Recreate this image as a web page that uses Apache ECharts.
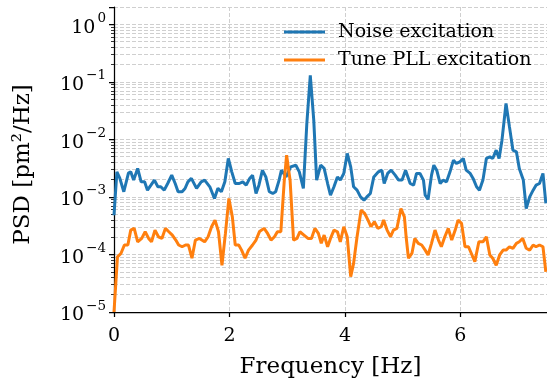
<!DOCTYPE html>
<html>
<head>
<meta charset="utf-8">
<script src="https://cdn.jsdelivr.net/npm/echarts@6/dist/echarts.min.js"></script>
<style>html,body{margin:0;padding:0;background:#fff}#c{width:547px;height:380px}</style>
</head>
<body>
<div id="c"></div>
<script>
// ---- data ----
const noiseFreq = [0.00,0.05,0.10,0.17,0.25,0.29,0.34,0.41,0.47,0.53,0.58,0.64,0.70,0.76,0.81,0.87,0.93,1.00,1.06,1.11,1.18,1.23,1.28,1.34,1.43,1.51,1.57,1.66,1.74,1.80,1.86,1.92,1.98,2.04,2.10,2.17,2.23,2.29,2.35,2.40,2.46,2.51,2.57,2.63,2.69,2.75,2.80,2.86,2.90,2.98,3.06,3.15,3.21,3.28,3.34,3.40,3.46,3.51,3.58,3.64,3.70,3.75,3.81,3.87,3.92,3.98,4.04,4.10,4.15,4.21,4.27,4.33,4.38,4.44,4.50,4.58,4.64,4.68,4.74,4.80,4.87,4.93,4.99,5.05,5.07,5.13,5.19,5.24,5.30,5.36,5.39,5.44,5.50,5.54,5.59,5.65,5.70,5.76,5.82,5.88,5.93,5.99,6.05,6.10,6.17,6.22,6.28,6.33,6.39,6.45,6.51,6.56,6.62,6.67,6.72,6.79,6.85,6.91,6.97,7.02,7.09,7.14,7.20,7.26,7.31,7.37,7.43,7.48];
const noisePsd = [4.8e-4,2.73e-3,2.12e-3,1.23e-3,2.59e-3,2.73e-3,1.96e-3,3.13e-3,1.83e-3,1.83e-3,1.31e-3,1.60e-3,1.96e-3,1.50e-3,1.50e-3,1.31e-3,1.71e-3,2.39e-3,1.71e-3,1.23e-3,1.23e-3,1.4e-3,1.83e-3,2.10e-3,1.41e-3,1.83e-3,1.96e-3,1.50e-3,9.4e-4,1.41e-3,1.23e-3,1.83e-3,4.66e-3,2.73e-3,1.71e-3,1.71e-3,1.83e-3,1.60e-3,2.10e-3,2.39e-3,1.15e-3,1.6e-3,2.9e-3,2.23e-3,1.23e-3,1.15e-3,1.23e-3,1.96e-3,2.92e-3,2.23e-3,3.33e-3,3.56e-3,2.73e-3,1.41e-3,1.89e-2,0.130,2.16e-2,1.96e-3,3.56e-3,3.13e-3,1.71e-3,1.07e-3,1.50e-3,2.23e-3,1.96e-3,2.56e-3,5.69e-3,3.33e-3,1.50e-3,1.31e-3,1.0e-3,8.8e-4,1.0e-3,1.15e-3,2.23e-3,2.73e-3,2.92e-3,1.71e-3,2.56e-3,2.92e-3,2.39e-3,1.96e-3,1.96e-3,2.92e-3,2.56e-3,1.71e-3,1.60e-3,2.56e-3,2.56e-3,1.96e-3,1.07e-3,9.1e-4,2.39e-3,3.56e-3,2.92e-3,1.71e-3,1.96e-3,1.83e-3,2.73e-3,4.35e-3,3.82e-3,4.08e-3,4.66e-3,2.92e-3,2.56e-3,2.10e-3,1.50e-3,1.31e-3,1.96e-3,4.66e-3,4.97e-3,4.66e-3,6.5e-3,4.66e-3,9.7e-3,4.2e-2,1.65e-2,6.5e-3,6.07e-3,3.13e-3,1.96e-3,6.3e-4,1.0e-3,1.31e-3,1.60e-3,1.71e-3,2.56e-3,7.7e-4];

const pllFreq = [0.00,0.06,0.12,0.18,0.24,0.29,0.35,0.41,0.48,0.54,0.60,0.65,0.71,0.77,0.83,0.89,0.95,1.01,1.07,1.12,1.18,1.24,1.29,1.35,1.41,1.48,1.57,1.63,1.69,1.75,1.81,1.87,1.93,1.99,2.05,2.10,2.16,2.21,2.27,2.33,2.40,2.46,2.52,2.60,2.66,2.72,2.78,2.83,2.89,2.95,2.99,3.05,3.11,3.17,3.22,3.29,3.36,3.42,3.48,3.54,3.59,3.64,3.70,3.75,3.81,3.87,3.92,3.98,4.04,4.10,4.15,4.21,4.28,4.34,4.40,4.45,4.51,4.57,4.63,4.67,4.73,4.79,4.84,4.90,4.97,5.03,5.06,5.10,5.16,5.21,5.27,5.33,5.39,5.44,5.50,5.56,5.62,5.67,5.73,5.79,5.85,5.91,5.96,6.02,6.08,6.14,6.19,6.25,6.32,6.39,6.45,6.51,6.56,6.62,6.68,6.74,6.79,6.85,6.91,6.97,7.02,7.08,7.14,7.20,7.26,7.31,7.37,7.43,7.48];
const pllPsd = [1.0e-5,9.1e-5,1.04e-4,1.46e-4,1.46e-4,2.65e-4,2.84e-4,1.66e-4,1.9e-4,2.48e-4,1.9e-4,1.66e-4,2.65e-4,2.03e-4,1.9e-4,2.84e-4,2.48e-4,2.17e-4,1.78e-4,1.46e-4,1.36e-4,1.46e-4,1.46e-4,8.6e-5,1.78e-4,1.9e-4,1.66e-4,2.03e-4,3.03e-4,3.96e-4,2.48e-4,6.5e-5,2.32e-4,9.4e-4,4.5e-4,1.46e-4,1.46e-4,1.19e-4,8.6e-5,1.19e-4,1.46e-4,1.78e-4,2.5e-4,2.84e-4,2.32e-4,1.78e-4,2.03e-4,2.48e-4,2.48e-4,1.96e-3,5.3e-3,1.96e-3,1.78e-4,1.9e-4,2.48e-4,2.17e-4,1.9e-4,1.9e-4,2.84e-4,2.32e-4,1.56e-4,2.17e-4,1.36e-4,1.9e-4,2.65e-4,2.48e-4,1.66e-4,3.03e-4,2.03e-4,4.1e-5,7.0e-5,2.03e-4,5.9e-4,5.2e-4,3.96e-4,3.03e-4,3.7e-4,2.84e-4,3.03e-4,3.96e-4,2.65e-4,2.03e-4,2.65e-4,2.84e-4,6.3e-4,4.5e-4,2.03e-4,8.6e-5,1.04e-4,1.9e-4,1.56e-4,1.46e-4,1.19e-4,9.8e-5,1.56e-4,2.65e-4,1.78e-4,1.36e-4,2.03e-4,2.84e-4,1.78e-4,2.65e-4,3.96e-4,3.47e-4,1.36e-4,1.36e-4,1.04e-4,7.5e-5,1.66e-4,1.66e-4,2.03e-4,9.8e-5,8.6e-5,6.5e-5,9.8e-5,1.19e-4,1.19e-4,1.36e-4,1.28e-4,1.56e-4,1.66e-4,1.9e-4,1.28e-4,1.19e-4,1.46e-4,1.36e-4,1.46e-4,1.36e-4,5.0e-5];

const seriesNames = ['Noise excitation', 'Tune PLL excitation'];
const xTicks = [0, 2, 4, 6];
const yMin = 1e-5, yMax = 2;

// ---- chart ----
const FONT = 'DejaVu Serif';
const minorVals = [];
for (let e = -5; e <= 0; e++) for (let m = 2; m <= 9; m++) { const v = m * Math.pow(10, e); if (v <= yMax) minorVals.push(v); }
const sup = e => (e < 0 ? '\u2212' + (-e) : '' + e);
const pair = (xs, ys) => xs.map((x, i) => [x, ys[i]]);
const grid = '#cfcfcf';

const chart = echarts.init(document.getElementById('c'), null, {renderer: 'canvas'});
chart.setOption({
  animation: false,
  backgroundColor: '#fff',
  textStyle: {fontFamily: FONT},
  grid: {left: 114, right: 0, top: 7, bottom: 68, outerBoundsMode: 'none'},
  legend: {
    orient: 'vertical', left: 284, top: 22, itemGap: 8, padding: 0,
    icon: 'rect', itemWidth: 41, itemHeight: 3,
    textStyle: {fontFamily: FONT, fontSize: 19, color: '#000', lineHeight: 20, padding: [0, 0, 0, 8]},
    data: seriesNames
  },
  xAxis: {
    type: 'value', min: 0, max: 7.5,
    name: 'Frequency [Hz]', nameLocation: 'middle', nameGap: 44,
    nameTextStyle: {fontFamily: FONT, fontSize: 23, color: '#000'},
    axisLine: {show: true, onZero: false, lineStyle: {color: '#000', width: 1.25}},
    axisTick: {show: true, length: 5, customValues: xTicks, lineStyle: {color: '#000', width: 1.25}},
    axisLabel: {customValues: xTicks, margin: 15, fontFamily: FONT, fontSize: 19, color: '#000'},
    splitLine: {show: true, lineStyle: {color: grid, width: 1, type: [4, 2]}}
  },
  yAxis: [{
    type: 'log', logBase: 10, min: yMin, max: yMax,
    name: 'PSD [pm\u00b2/Hz]', nameLocation: 'middle', nameGap: 79,
    nameTextStyle: {fontFamily: FONT, fontSize: 23, color: '#000', padding: [0, 10, 0, 0]},
    axisLine: {show: true, onZero: false, lineStyle: {color: '#000', width: 1.25}},
    axisTick: {show: true, length: 5, lineStyle: {color: '#000', width: 1.25}},
    axisLabel: {
      margin: 8, color: '#000',
      formatter: v => { const e = Math.round(Math.log10(v)); if (Math.abs(Math.log10(v) - e) > 1e-6) return ''; return '{b|10}{s|' + sup(e) + '}'; },
      rich: {
        b: {fontFamily: FONT, fontSize: 19, lineHeight: 26, verticalAlign: 'bottom', color: '#000'},
        s: {fontFamily: FONT, fontSize: 13.5, lineHeight: 12, verticalAlign: 'top', color: '#000', padding: [0, 0, 0, 2]}
      }
    },
    splitLine: {show: true, lineStyle: {color: grid, width: 1, type: [4, 2]}}
  }, {
    type: 'log', logBase: 10, min: yMin, max: yMax, position: 'left',
    axisLine: {show: false},
    axisTick: {show: true, length: 3, customValues: minorVals, lineStyle: {color: '#000', width: 0.8}},
    axisLabel: {show: false},
    splitLine: {show: true, lineStyle: {color: grid, width: 1, type: [4, 2]}}
  }],
  series: [{
    name: seriesNames[0], type: 'line', yAxisIndex: 0, showSymbol: false, symbol: 'none',
    data: pair(noiseFreq, noisePsd), lineStyle: {color: '#1f77b4', width: 3}, itemStyle: {color: '#1f77b4'}
  }, {
    name: seriesNames[1], type: 'line', yAxisIndex: 0, showSymbol: false, symbol: 'none',
    data: pair(pllFreq, pllPsd), lineStyle: {color: '#ff7f0e', width: 3}, itemStyle: {color: '#ff7f0e'}
  }]
});
</script>
</body>
</html>
